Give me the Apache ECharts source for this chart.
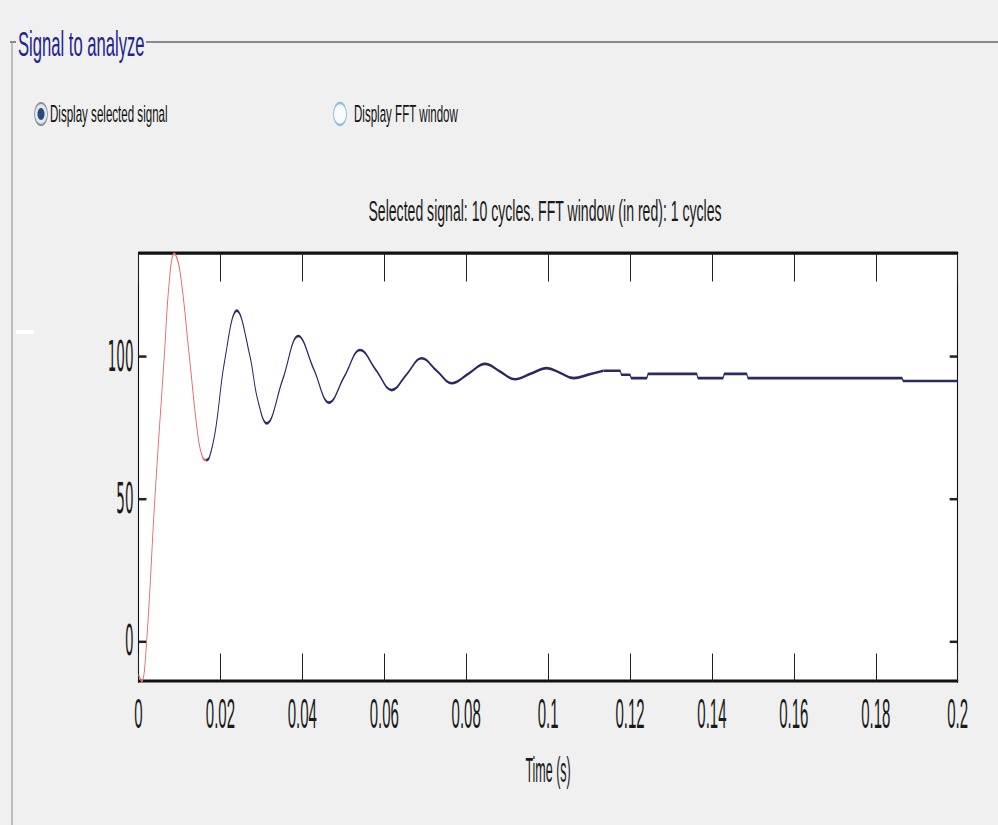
<!DOCTYPE html>
<html>
<head>
<meta charset="utf-8">
<script src="https://cdn.jsdelivr.net/npm/echarts@6/dist/echarts.min.js"></script>
<style>
html,body{margin:0;padding:0;background:#f0f0f0;overflow:hidden;width:998px;height:825px;}
#chart{width:998px;height:295px;transform:scaleY(2.7966);transform-origin:0 0;}
</style>
</head>
<body>
<div id="chart"></div>
<script>
// ---- data ----
const xTicks = [0, 0.02, 0.04, 0.06, 0.08, 0.1, 0.12, 0.14, 0.16, 0.18, 0.2];
const xTickLabels = ['0', '0.02', '0.04', '0.06', '0.08', '0.1', '0.12', '0.14', '0.16', '0.18', '0.2'];
const yTicks = [0, 50, 100];
const yTickLabels = ['0', '50', '100'];

// FFT window (first cycle) in red
const redSignal = [
  [0, -12], [0.0008, -14.4], [0.002, 0], [0.004, 50], [0.0063, 100], [0.0075, 126],
  [0.0087, 136], [0.0101, 130], [0.0124, 100], [0.0145, 72], [0.0157, 64.2], [0.0165, 63.4]
];
// rest of selected signal, oscillating part
const blueSignal = [
  [0.0165, 63.4], [0.0173, 64.4], [0.0188, 74], [0.021, 98], [0.024, 115.9], [0.0272, 100], [0.029, 85.2],
  [0.0313, 76.3], [0.0352, 91.7], [0.039, 107], [0.0428, 95.3], [0.0465, 83.6],
  [0.0503, 92.9], [0.0541, 102.1], [0.058, 95], [0.0618, 88], [0.0655, 93.6],
  [0.0691, 99.2], [0.0728, 94.8], [0.0765, 90.4], [0.0806, 93.8], [0.0846, 97.2],
  [0.0883, 94.5], [0.0919, 91.8], [0.0958, 93.8], [0.0997, 95.7], [0.103, 94],
  [0.1062, 92.2], [0.11, 93.5], [0.1135, 94.8]
];
// settled, stepped tail
const tailSignal = [
  [0.1135, 94.8], [0.1176, 94.8], [0.1179, 93.4], [0.12, 93.4], [0.1203, 92.2],
  [0.1241, 92.2], [0.1244, 93.7], [0.1363, 93.7], [0.1366, 92.2], [0.1427, 92.2],
  [0.143, 93.7], [0.1485, 93.7], [0.1488, 92.2], [0.1864, 92.2], [0.1867, 91.2], [0.2, 91.2]
];

const titleText = 'Selected signal: 10 cycles. FFT window (in red): 1 cycles';
const panelTitle = 'Signal to analyze';
const radio1Text = 'Display selected signal';
const radio2Text = 'Display FFT window';

const SY = 2.7966; // vertical stretch of the reference picture
const Y = v => v / SY;

const chart = echarts.init(document.getElementById('chart'), null, {renderer: 'svg'});

function xFmt(v) {
  const i = xTicks.findIndex(t => Math.abs(t - v) < 1e-9);
  return i >= 0 ? xTickLabels[i] : '';
}
function yFmt(v) {
  const i = yTicks.findIndex(t => Math.abs(t - v) < 1e-9);
  return i >= 0 ? yTickLabels[i] : '';
}

const axisLineStyle = {color: '#111', width: 1.1};
const tickStyleX = {color: '#222', width: 1};
const tickStyleY = {color: '#222', width: 0.9};

const option = {
  animation: false,
  backgroundColor: '#f0f0f0',
  grid: {
    left: 138.5, top: Y(253.5), width: 819.2, height: Y(681.5) - Y(253.5),
    show: true, backgroundColor: '#ffffff', borderWidth: 0, containLabel: false
  },
  xAxis: [
    {
      type: 'value', position: 'bottom', min: 0, max: 0.2, interval: 0.02,
      axisLine: {show: true, onZero: false, lineStyle: axisLineStyle},
      axisTick: {show: true, inside: true, length: 10, lineStyle: tickStyleX, customValues: xTicks},
      axisLabel: {show: true, margin: 4, fontSize: 15, fontFamily: 'Liberation Sans, Arial, sans-serif',
                  color: '#1a1a1a', formatter: xFmt, customValues: xTicks},
      splitLine: {show: false},
      name: 'Time (s)', nameLocation: 'middle', nameGap: 25,
      nameTextStyle: {fontSize: 12.5, fontFamily: 'Liberation Sans, Arial, sans-serif', color: '#1a1a1a'}
    },
    {
      type: 'value', position: 'top', min: 0, max: 0.2, interval: 0.02,
      axisLine: {show: true, onZero: false, lineStyle: axisLineStyle},
      axisTick: {show: true, inside: true, length: 10, lineStyle: tickStyleX, customValues: xTicks},
      axisLabel: {show: false},
      splitLine: {show: false}
    }
  ],
  yAxis: [
    {
      type: 'value', position: 'left', min: -14.4, max: 136,
      axisLine: {show: true, onZero: false, lineStyle: axisLineStyle},
      axisTick: {show: true, inside: true, length: 8, lineStyle: tickStyleY, customValues: yTicks},
      axisLabel: {show: true, margin: 5, fontSize: 15,
                  fontFamily: 'Liberation Sans Narrow, DejaVu Sans Condensed, sans-serif',
                  color: '#1a1a1a', formatter: yFmt, customValues: yTicks},
      splitLine: {show: false}
    },
    {
      type: 'value', position: 'right', min: -14.4, max: 136,
      axisLine: {show: true, onZero: false, lineStyle: axisLineStyle},
      axisTick: {show: true, inside: true, length: 8, lineStyle: tickStyleY, customValues: yTicks},
      axisLabel: {show: false},
      splitLine: {show: false}
    }
  ],
  series: [
    {
      type: 'line', data: redSignal, xAxisIndex: 0, yAxisIndex: 0, smooth: 0.4,
      showSymbol: false, lineStyle: {color: '#e06a6a', width: 0.9}, z: 3
    },
    {
      type: 'line', data: blueSignal, xAxisIndex: 0, yAxisIndex: 0, smooth: 0.4,
      showSymbol: false, lineStyle: {color: '#2a2a62', width: 0.95}, z: 3
    },
    {
      type: 'line', data: tailSignal, xAxisIndex: 0, yAxisIndex: 0, smooth: false,
      showSymbol: false, lineStyle: {color: '#2a2a62', width: 0.95}, z: 3
    }
  ],
  graphic: [
    // group box frame
    {type: 'line', silent: true, shape: {x1: 10, y1: Y(42), x2: 16, y2: Y(42)},
     style: {stroke: '#8a8a8a', lineWidth: 0.7}},
    {type: 'line', silent: true, shape: {x1: 146, y1: Y(42), x2: 998, y2: Y(42)},
     style: {stroke: '#8a8a8a', lineWidth: 0.7}},
    {type: 'line', silent: true, shape: {x1: 12, y1: Y(42), x2: 12, y2: Y(825)},
     style: {stroke: '#9a9a9a', lineWidth: 1.2}},
    {type: 'rect', silent: true, shape: {x: 16, y: Y(330), width: 18, height: Y(4)},
     style: {fill: '#ffffff'}},
    {type: 'text', silent: true, x: 18, y: Y(44), scaleX: 1.34,
     style: {text: panelTitle, x: 0, y: 0, fill: '#23238f', fontSize: 12.4,
             fontFamily: 'Liberation Sans, Arial, sans-serif', textVerticalAlign: 'middle', textAlign: 'left'}},
    // radio buttons
    {type: 'ellipse', silent: true, shape: {cx: 41, cy: Y(114), rx: 6.5, ry: Y(11)},
     style: {fill: '#e4e8ee', stroke: '#8c9198', lineWidth: 0.8}},
    {type: 'ellipse', silent: true, shape: {cx: 41, cy: Y(114), rx: 3.5, ry: Y(6)},
     style: {fill: '#2a4a7a'}},
    {type: 'text', silent: true, x: 50, y: Y(114), scaleX: 1.36,
     style: {text: radio1Text, x: 0, y: 0, fill: '#111', fontSize: 8.5,
             fontFamily: 'Liberation Sans, Arial, sans-serif', textVerticalAlign: 'middle'}},
    {type: 'ellipse', silent: true, shape: {cx: 340, cy: Y(114), rx: 6.5, ry: Y(11)},
     style: {fill: '#f6fbff', stroke: '#8fc0e0', lineWidth: 0.9}},
    {type: 'text', silent: true, x: 354, y: Y(114), scaleX: 1.36,
     style: {text: radio2Text, x: 0, y: 0, fill: '#111', fontSize: 8.5,
             fontFamily: 'Liberation Sans, Arial, sans-serif', textVerticalAlign: 'middle'}},
    // plot title
    {type: 'text', silent: true, x: 545, y: Y(211), scaleX: 1.34,
     style: {text: titleText, x: 0, y: 0, fill: '#1a1a1a', fontSize: 10.5,
             fontFamily: 'Liberation Sans, Arial, sans-serif', textAlign: 'center', textVerticalAlign: 'middle'}}
  ]
};
chart.setOption(option);
</script>
</body>
</html>
